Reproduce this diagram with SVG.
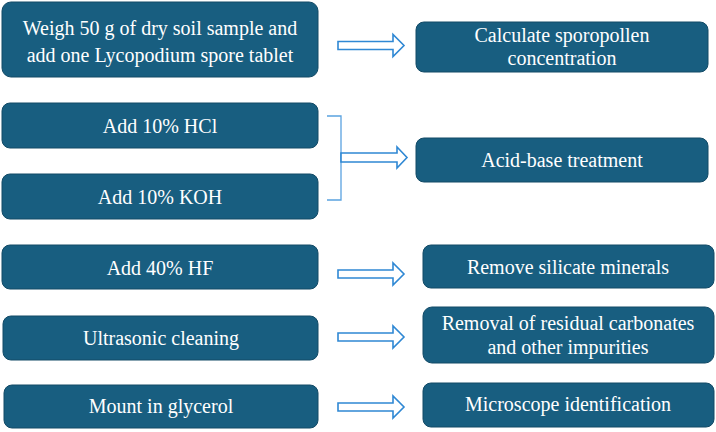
<svg xmlns="http://www.w3.org/2000/svg" width="716" height="432" viewBox="0 0 716 432">
<style>
.box{fill:#185e80;stroke:#124a66;stroke-width:1}
text{fill:#ffffff;font-family:'Liberation Serif','Times New Roman','DejaVu Serif',serif;font-size:20px;text-anchor:middle}
.arr{fill:#ffffff;stroke:#2f88d4;stroke-width:1.6;stroke-linejoin:miter}
.br{fill:none;stroke:#5aa2e0;stroke-width:1.3}
</style>
<rect width="716" height="432" fill="#ffffff"/>
<g id="n1"><rect class="box" x="2" y="2" width="316" height="75" rx="9"/><text x="160" y="35">Weigh 50 g of dry soil sample and</text><text x="160" y="62">add one Lycopodium spore tablet</text></g>
<g id="r1"><rect class="box" x="416" y="22" width="292" height="50" rx="8"/><text x="562" y="42">Calculate sporopollen</text><text x="562" y="65">concentration</text></g>
<g id="n2"><rect class="box" x="2" y="103" width="316" height="45" rx="8"/><text x="160" y="133">Add 10% HCl</text></g>
<g id="n3"><rect class="box" x="2" y="174" width="316" height="45" rx="8"/><text x="160" y="204">Add 10% KOH</text></g>
<g id="r2"><rect class="box" x="416" y="138" width="292" height="44" rx="8"/><text x="562" y="167">Acid-base treatment</text></g>
<g id="n4"><rect class="box" x="2" y="245" width="316" height="44" rx="8"/><text x="160" y="275">Add 40% HF</text></g>
<g id="r3"><rect class="box" x="423" y="245" width="291" height="43" rx="8"/><text x="568" y="274">Remove silicate minerals</text></g>
<g id="n5"><rect class="box" x="3" y="316" width="315" height="44" rx="8"/><text x="161" y="345">Ultrasonic cleaning</text></g>
<g id="r4"><rect class="box" x="423" y="307" width="291" height="56" rx="9"/><text x="568" y="330">Removal of residual carbonates</text><text x="568" y="354">and other impurities</text></g>
<g id="n6"><rect class="box" x="4" y="385" width="314" height="43" rx="8"/><text x="161" y="413">Mount in glycerol</text></g>
<g id="r5"><rect class="box" x="423" y="383" width="291" height="44" rx="8"/><text x="568" y="411">Microscope identification</text></g>
<g id="connectors">
<path class="arr" d="M338,41.5 H393 V34.5 L404,45.5 L393,56.5 V49.5 H338 Z"/>
<path class="br" d="M327,116 H341 V200 H327"/>
<path class="arr" d="M341,153 H397 V147 L407,157.5 L397,168 V162 H341 Z"/>
<path class="arr" d="M338,270 H393 V263 L404,274 L393,285 V278 H338 Z"/>
<path class="arr" d="M338,333 H393 V326 L404,337 L393,348 V341 H338 Z"/>
<path class="arr" d="M338,403 H393 V396 L404,407 L393,418 V411 H338 Z"/>
</g>
</svg>
